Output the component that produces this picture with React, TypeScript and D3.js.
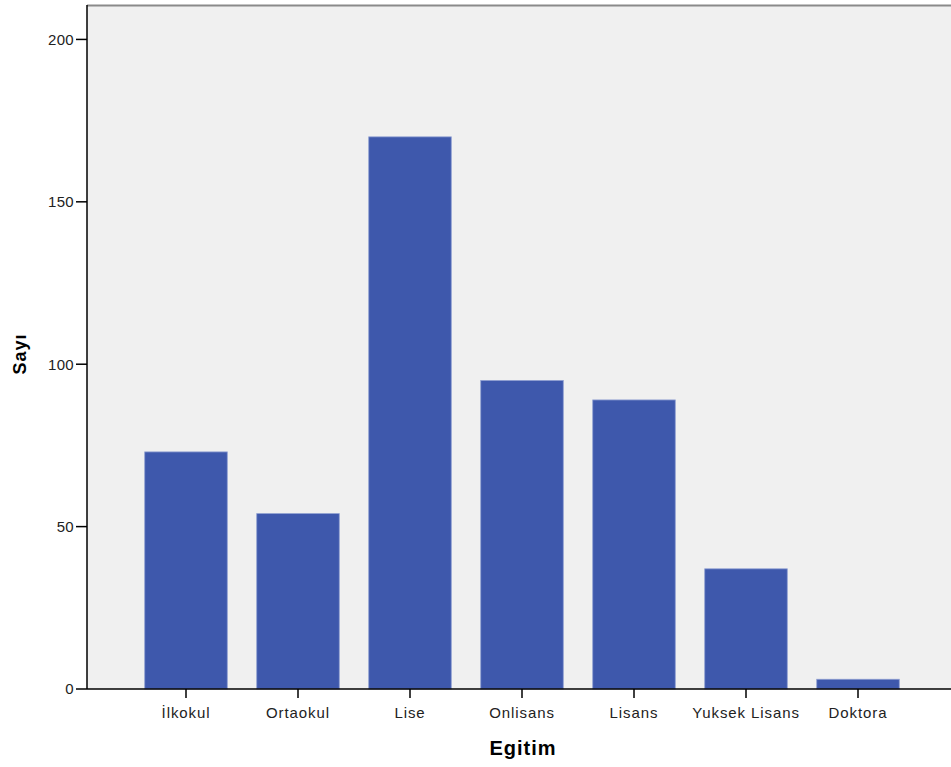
import React from "react";
import * as d3 from "d3";

const categories = ["İlkokul", "Ortaokul", "Lise", "Onlisans", "Lisans", "Yuksek Lisans", "Doktora"];
const counts = [73, 54, 170, 95, 89, 37, 3];
const yTicks = [0, 50, 100, 150, 200];
const xTitle = "Egitim";
const yTitle = "Sayı";

export default function App() {
  const W = 951, H = 767;
  const left = 87, right = 951, top = 5, bottom = 689;
  const y = d3.scaleLinear().domain([0, 210.6]).range([bottom, top]);
  const x = d3.scaleBand().domain(categories).range([130, 914]).paddingInner(0.263).paddingOuter(0.1315);
  const font = "'Liberation Sans', Arial, sans-serif";
  return (
    <svg width={W} height={H} style={{ position: "absolute", left: 0, top: 0 }}>
      <rect x={0} y={0} width={W} height={H} fill="#fff" />
      <rect x={left} y={top} width={right - left} height={bottom - top} fill="#f0f0f0" />
      <line x1={left} x2={right} y1={top + 0.5} y2={top + 0.5} stroke="#8a8a8a" strokeWidth={2} />
      {categories.map((c, i) => (
        <rect key={c} x={x(c)!} y={y(counts[i])} width={x.bandwidth()} height={bottom - y(counts[i])}
          fill="#3e58ac" stroke="#8f9fd2" strokeWidth={0.8} />
      ))}
      <line x1={left} x2={left} y1={top} y2={bottom} stroke="#000" strokeWidth={1.5} />
      <line x1={left} x2={right} y1={bottom} y2={bottom} stroke="#000" strokeWidth={1.5} />
      {yTicks.map(t => (
        <g key={t}>
          <line x1={76} x2={left} y1={y(t)} y2={y(t)} stroke="#000" strokeWidth={1.5} />
          <text x={74} y={y(t)} dy="0.36em" textAnchor="end" fontFamily={font} fontSize={15} letterSpacing={0.3} fill="#222">{t}</text>
        </g>
      ))}
      {categories.map(c => {
        const cx = x(c)! + x.bandwidth() / 2;
        return (
          <g key={c}>
            <line x1={cx} x2={cx} y1={bottom} y2={698} stroke="#000" strokeWidth={1.5} />
            <text x={cx} y={718} textAnchor="middle" fontFamily={font} fontSize={15} letterSpacing={0.9} fill="#222">{c}</text>
          </g>
        );
      })}
      <text x={523} y={755} textAnchor="middle" fontFamily={font} fontSize={20} letterSpacing={1} fontWeight="bold" fill="#000">{xTitle}</text>
      <text transform={`translate(26,${354}) rotate(-90)`} textAnchor="middle" fontFamily={font} fontSize={18} letterSpacing={1} fontWeight="bold" fill="#000">{yTitle}</text>
    </svg>
  );
}
